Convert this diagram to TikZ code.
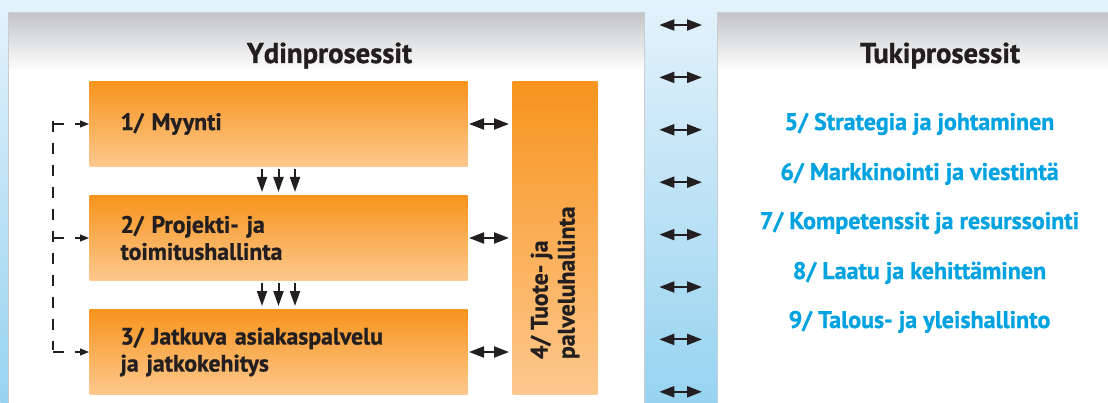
\documentclass[tikz,border=0pt]{standalone}
\usepackage{fontspec}
\setmainfont[BoldFeatures={FakeBold=1}]{PT Sans}
\usetikzlibrary{arrows.meta,calc}

\definecolor{bgTop}{RGB}{228,242,251}
\definecolor{bgBot}{RGB}{150,211,240}
\definecolor{panelTop}{RGB}{195,196,199}
\definecolor{panelLine}{RGB}{200,206,211}
\definecolor{orTop}{RGB}{247,148,29}
\definecolor{orBot}{RGB}{253,200,142}
\definecolor{darkText}{RGB}{35,31,32}
\definecolor{blueText}{RGB}{0,163,224}

\pgfdeclareverticalshading{panelshade}{100bp}{color(0bp)=(white); color(67.7bp)=(white); color(75bp)=(panelTop); color(100bp)=(panelTop)}

\tikzset{every picture/.style={line width=0.75pt}}
\tikzset{
  bgbox/.style={anchor=north west, inner sep=0pt, top color=bgTop, bottom color=bgBot, minimum width=831pt, minimum height=302.25pt},
  panel/.style={anchor=north west, inner sep=0pt, draw=panelLine, line width=1pt, shading=panelshade, minimum height=298.5pt},
  titletext/.style={anchor=base, font=\bfseries\fontsize{21.5}{24}\selectfont, text=darkText},
  boxtext/.style={font=\bfseries\fontsize{17.8}{20.25}\selectfont, text=darkText},
  procbox/.style={boxtext, anchor=north west, top color=orTop, bottom color=orBot, inner xsep=23.25pt, inner ysep=0pt, minimum height=63.75pt, text width=237pt, align=left},
  prodbox/.style={anchor=north west, inner sep=0pt, top color=orTop, bottom color=orBot, minimum width=63.75pt, minimum height=234.75pt},
  supporttext/.style={anchor=base, font=\bfseries\fontsize{18}{20}\selectfont, text=blueText},
  linkarrow/.style={{Triangle[length=11.25pt,width=8.25pt]}-{Triangle[length=11.25pt,width=8.25pt]}, line width=1.6pt, draw=darkText},
  flowarrow/.style={-{Triangle[length=11.25pt,width=7.5pt]}, line width=1.5pt, draw=darkText, shorten <=1.5pt, shorten >=2.25pt},
  fbline/.style={draw=darkText, line width=0.9pt, dash pattern=on 8.25pt off 8.25pt}
}

\begin{document}
\begin{tikzpicture}[x=0.75pt,y=0.75pt,yscale=-1,xscale=1]
\useasboundingbox (0,0) rectangle (1108,403);

%Shape: Background
\node[bgbox] (bg) at (0,0) {};
%Shape: Rectangle
\node[panel, minimum width=477pt] (core) at (8,12) {};
%Shape: Rectangle
\node[panel, minimum width=298.5pt] (support) at (717,12) {};

% Text Node
\node[titletext] (coretitle) at (329.5,63) {Ydinprosessit};
% Text Node
\node[titletext] (supporttitle) at (940,63) {Tukiprosessit};

%Shape: Rectangle
\node[procbox] (sales) at (89,81) {1/ Myynti};
%Shape: Rectangle
\node[procbox] (delivery) at (89,195) {2/ Projekti- ja\\toimitushallinta};
%Shape: Rectangle
\node[procbox] (care) at (89,309) {3/ Jatkuva asiakaspalvelu\\ja jatkokehitys};
%Shape: Rectangle
\node[prodbox] (product) at (512,81) {};
% Text Node
\node[boxtext, rotate=90, anchor=west, align=left] (producttext) at ($(product.south)+(0,-31)$) {4/ Tuote- ja\\palveluhallinta};

%Straight Lines
\foreach \dx in {-16.5,0,16.5} {
  \draw[flowarrow] ($(sales.south)+(\dx,0)$) -- ($(delivery.north)+(\dx,0)$);
  \draw[flowarrow] ($(delivery.south)+(\dx,0)$) -- ($(care.north)+(\dx,0)$);
}

%Straight Lines
\foreach \n in {sales,delivery,care}
  \draw[linkarrow, shorten <=0.75pt, shorten >=2.25pt] (\n.east) -- (\n.east -| product.west);

%Straight Lines
\coordinate (fbtop) at (53,121);
\coordinate (fbbot) at (53,350);
\draw[fbline] (fbtop) -- (fbbot);
\foreach \n in {sales,delivery,care}
  \draw[fbline, -{Triangle[length=6.75pt,width=5.25pt]}] (\n.west -| fbtop) -- (\n.west);

%Straight Lines
\foreach \k in {0,...,7} {
  \pgfmathsetmacro\yy{25+52.4*\k}
  \coordinate (lnk\k) at (0,\yy);
  \draw[linkarrow, shorten <=10.5pt, shorten >=11.25pt] (core.east |- lnk\k) -- (support.west |- lnk\k);
}

% Text Node
\node[supporttext] (strategy) at (919.5,130) {5/ Strategia ja johtaminen};
% Text Node
\node[supporttext] (marketing) at (919.5,180) {6/ Markkinointi ja viestintä};
% Text Node
\node[supporttext] (competence) at (919.5,229) {7/ Kompetenssit ja resurssointi};
% Text Node
\node[supporttext] (quality) at (919.5,279) {8/ Laatu ja kehittäminen};
% Text Node
\node[supporttext] (admin) at (919.5,328) {9/ Talous- ja yleishallinto};

\end{tikzpicture}
\end{document}
